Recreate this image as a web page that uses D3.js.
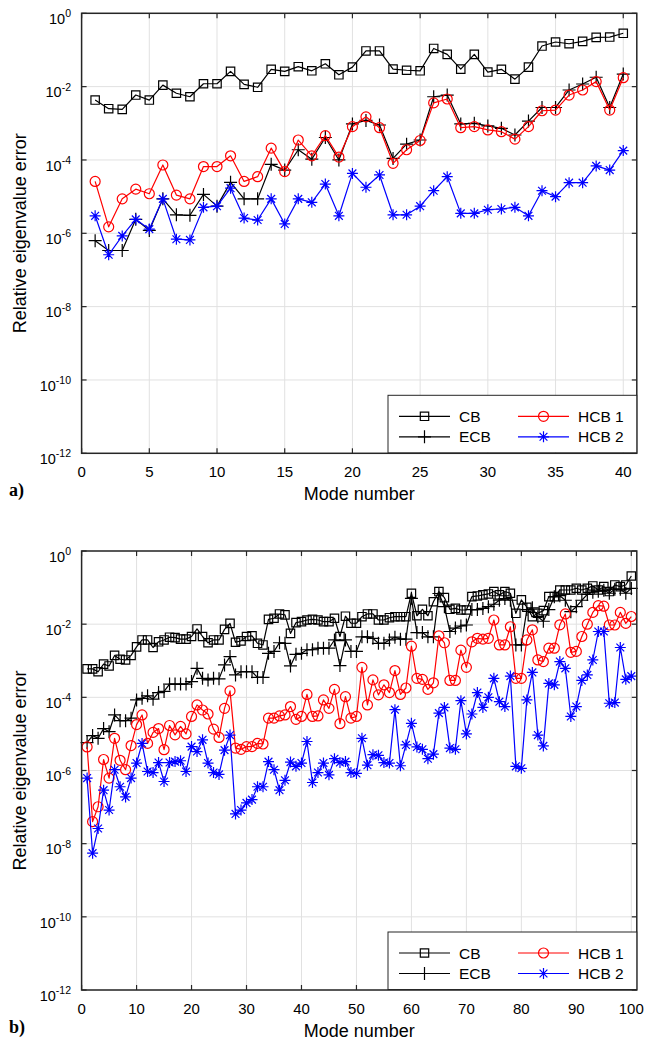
<!DOCTYPE html>
<html>
<head>
<meta charset="utf-8">
<script src="https://cdn.jsdelivr.net/npm/d3@7"></script>
<style>
  body { margin: 0; background: #fff; }
  svg { display: block; font-family: "Liberation Sans", Arial, Helvetica, sans-serif; }
</style>
</head>
<body>
<svg id="chart" width="646" height="1041"></svg>
<script>
// ---- panel a) : 40 modes ----
const modesA = d3.range(1, 41);
const cbA = [4.3e-3, 2.5e-3, 2.4e-3, 5.9e-3, 4.3e-3, 1.1e-2, 6.6e-3, 5.3e-3, 1.2e-2, 1.2e-2,
    2.6e-2, 1.15e-2, 9.6e-3, 2.97e-2, 2.6e-2, 3.5e-2, 2.7e-2, 4.2e-2, 2.1e-2, 3.4e-2,
    9.4e-2, 9.4e-2, 3.0e-2, 2.8e-2, 2.7e-2, 0.11, 7.6e-2, 3.0e-2, 7.6e-2, 2.5e-2,
    2.97e-2, 1.6e-2, 3.4e-2, 0.128, 0.165, 0.148, 0.172, 0.22, 0.225, 0.285];
const ecbA = [6.3e-7, 3.4e-7, 3.4e-7, 2.4e-6, 1.2e-6, 8.7e-6, 3.2e-6, 3.1e-6, 1.15e-5, 5.5e-6,
    2.45e-5, 8.7e-6, 8.7e-6, 7.6e-5, 5.3e-5, 1.9e-4, 1.05e-4, 4.1e-4, 1.0e-4, 9.6e-4,
    1.2e-3, 9.0e-4, 1.1e-4, 2.7e-4, 3.5e-4, 5.3e-3, 5.9e-3, 9.6e-4, 1.0e-3, 8.5e-4,
    7.3e-4, 4.8e-4, 1.15e-3, 2.7e-3, 2.7e-3, 8.1e-3, 1.18e-2, 1.8e-2, 2.7e-3, 2.2e-2];
const hcb1A = [2.6e-5, 1.5e-6, 8.7e-6, 1.6e-5, 1.2e-5, 7.3e-5, 1.1e-5, 8.7e-6, 6.6e-5, 6.6e-5,
    1.3e-4, 2.6e-5, 3.5e-5, 2.1e-4, 4.8e-5, 3.5e-4, 1.3e-4, 4.6e-4, 1.2e-4, 8.1e-4,
    1.5e-3, 7.6e-4, 8.1e-5, 1.9e-4, 3.4e-4, 3.6e-3, 4.6e-3, 7.6e-4, 8.1e-4, 6.6e-4,
    5.9e-4, 3.7e-4, 8.1e-4, 2.2e-3, 2.3e-3, 5.9e-3, 8.1e-3, 1.37e-2, 2.3e-3, 1.75e-2];
const hcb2A = [3.0e-6, 2.6e-7, 8.5e-7, 2.4e-6, 1.3e-6, 8.7e-6, 6.9e-7, 6.6e-7, 5.1e-6, 5.5e-6,
    1.7e-5, 2.6e-6, 2.3e-6, 8.7e-6, 1.8e-6, 8.7e-6, 7.0e-6, 2.2e-5, 3.0e-6, 4.3e-5,
    1.8e-5, 3.9e-5, 3.2e-6, 3.2e-6, 5.5e-6, 1.45e-5, 3.5e-5, 3.5e-6, 3.5e-6, 4.4e-6,
    4.6e-6, 5.1e-6, 3.0e-6, 1.45e-5, 1.0e-5, 2.4e-5, 2.4e-5, 6.9e-5, 5.3e-5, 1.8e-4];

// ---- panel b) : 100 modes ----
const modesB = d3.range(1, 101);
const cbB = [6.0e-4, 6.0e-4, 5.0e-4, 8.1e-4, 7.2e-4, 1.4e-3, 1.1e-3, 1.05e-3, 1.4e-3, 2.4e-3,
    3.7e-3, 3.7e-3, 2.3e-3, 3.3e-3, 3.7e-3, 4.4e-3, 4.3e-3, 3.9e-3, 3.9e-3, 4.6e-3,
    7.4e-3, 4.6e-3, 3.1e-3, 3.7e-3, 3.7e-3, 7.2e-3, 1.05e-2, 3.2e-3, 3.5e-3, 4.6e-3,
    4.8e-3, 3.0e-3, 2.7e-3, 1.35e-2, 1.45e-2, 1.9e-2, 1.8e-2, 5.6e-3, 1.1e-2, 1.17e-2,
    1.3e-2, 1.35e-2, 1.3e-2, 1.17e-2, 1.17e-2, 1.45e-2, 4.6e-3, 1.65e-2, 1.06e-2, 1.06e-2,
    1.6e-2, 1.9e-2, 1.9e-2, 1.3e-2, 1.3e-2, 1.5e-2, 1.6e-2, 1.6e-2, 1.6e-2, 7.0e-2,
    1.7e-2, 2.55e-2, 1.7e-2, 4.1e-2, 7.8e-2, 5.3e-2, 2.55e-2, 2.7e-2, 2.44e-2, 2.44e-2,
    5.65e-2, 5.9e-2, 6.3e-2, 6.7e-2, 7.8e-2, 6.3e-2, 7.8e-2, 7.0e-2, 1.98e-2, 4.6e-2,
    2.9e-2, 1.6e-2, 1.98e-2, 2.34e-2, 5.65e-2, 5.65e-2, 8.6e-2, 8.6e-2, 8.6e-2, 9.6e-2,
    8.6e-2, 9.6e-2, 0.111, 8.6e-2, 0.106, 7.8e-2, 0.118, 0.106, 0.118, 0.207];
const ecbB = [5.8e-6, 9.0e-6, 7.6e-6, 1.4e-5, 1.15e-5, 3.3e-5, 2.3e-5, 2.3e-5, 2.7e-5, 8.5e-5,
    9.4e-5, 1.1e-4, 8.9e-5, 1.35e-4, 1.45e-4, 2.3e-4, 2.3e-4, 2.3e-4, 2.3e-4, 2.7e-4,
    6.2e-4, 3.3e-4, 3.0e-4, 3.3e-4, 3.2e-4, 7.7e-4, 1.3e-3, 4.1e-4, 5.0e-4, 5.0e-4,
    5.0e-4, 3.5e-4, 3.5e-4, 1.6e-3, 1.8e-3, 3.1e-3, 3.0e-3, 7.2e-4, 1.5e-3, 1.6e-3,
    2.0e-3, 2.0e-3, 2.2e-3, 2.2e-3, 2.2e-3, 3.7e-3, 7.4e-4, 3.7e-3, 1.8e-3, 1.8e-3,
    4.5e-3, 4.5e-3, 4.1e-3, 3.0e-3, 3.0e-3, 3.7e-3, 4.4e-3, 3.9e-3, 3.9e-3, 5.1e-2,
    5.9e-3, 5.9e-3, 4.5e-3, 4.5e-3, 6.9e-2, 3.0e-2, 6.3e-3, 7.8e-3, 8.9e-3, 9.5e-3,
    2.5e-2, 2.5e-2, 2.7e-2, 3.0e-2, 3.5e-2, 4.5e-2, 5.0e-2, 4.5e-2, 2.7e-3, 2.7e-3,
    2.5e-2, 2.8e-2, 1.6e-2, 1.2e-2, 2.5e-2, 5.6e-2, 6.0e-2, 4.5e-2, 2.2e-2, 3.0e-2,
    4.5e-2, 6.5e-2, 7.5e-2, 8.0e-2, 8.5e-2, 7.0e-2, 9.0e-2, 9.0e-2, 7.0e-2, 9.5e-2];
const hcb1B = [4.4e-6, 4.0e-8, 1.02e-7, 2.0e-6, 6.2e-7, 7.6e-6, 1.9e-6, 1.05e-6, 4.8e-6, 1.8e-5,
    3.3e-5, 5.5e-6, 1.1e-5, 1.4e-5, 3.7e-6, 1.7e-5, 9.4e-6, 1.6e-5, 1.0e-5, 3.0e-5,
    6.2e-5, 4.5e-5, 3.5e-5, 1.35e-5, 8.0e-6, 5.0e-5, 1.5e-4, 4.1e-6, 3.8e-6, 4.5e-6,
    4.5e-6, 5.5e-6, 5.3e-6, 2.7e-5, 2.7e-5, 3.1e-5, 3.3e-5, 5.6e-5, 2.5e-5, 3.0e-5,
    1.2e-4, 3.0e-5, 3.1e-5, 8.5e-5, 5.0e-5, 1.65e-4, 1.9e-5, 1.04e-4, 2.7e-5, 3.0e-5,
    6.6e-4, 6.2e-5, 3.0e-4, 1.17e-4, 2.2e-4, 1.35e-4, 5.4e-4, 1.2e-4, 1.8e-4, 2.5e-3,
    3.3e-4, 3.1e-4, 1.65e-4, 2.5e-4, 4.8e-3, 3.1e-3, 2.9e-4, 2.9e-4, 1.95e-3, 6.6e-4,
    3.3e-3, 4.1e-3, 3.9e-3, 4.1e-3, 1.3e-2, 2.7e-3, 2.7e-3, 8.5e-3, 3.3e-4, 3.3e-4,
    3.7e-3, 7.0e-3, 1.05e-3, 9.5e-4, 2.2e-3, 2.2e-3, 9.6e-3, 1.9e-2, 1.7e-3, 1.8e-3,
    4.6e-3, 1.0e-2, 2.1e-2, 3.2e-2, 3.1e-2, 9.5e-3, 9.5e-3, 2.1e-2, 1.05e-2, 1.62e-2];
const hcb2B = [6.2e-7, 5.5e-9, 2.6e-8, 2.9e-7, 8.3e-8, 1.05e-6, 3.6e-7, 1.9e-7, 6.2e-7, 1.6e-6,
    5.5e-6, 9.4e-7, 8.8e-7, 1.65e-6, 5.0e-7, 1.65e-6, 1.75e-6, 1.85e-6, 9.4e-7, 4.5e-6,
    3.3e-6, 6.9e-6, 1.6e-6, 8.8e-7, 7.8e-7, 3.6e-6, 9.3e-6, 6.5e-8, 8.3e-8, 1.3e-7,
    1.6e-7, 3.6e-7, 3.6e-7, 1.75e-6, 1.05e-6, 2.9e-7, 5.4e-7, 1.7e-6, 1.3e-6, 1.6e-6,
    6.2e-6, 4.7e-7, 8.8e-7, 1.6e-6, 7.6e-7, 2.1e-6, 1.65e-6, 1.75e-6, 8.8e-7, 8.3e-7,
    7.6e-6, 1.4e-6, 2.7e-6, 2.6e-6, 1.65e-6, 1.6e-6, 4.6e-5, 1.35e-6, 5.0e-6, 1.95e-5,
    4.4e-6, 3.8e-6, 2.1e-6, 2.8e-6, 3.7e-5, 5.3e-5, 4.1e-6, 3.8e-6, 8.1e-5, 1.0e-5,
    3.5e-5, 1.35e-4, 5.3e-5, 1.0e-4, 3.3e-4, 7.6e-5, 5.6e-5, 3.8e-4, 1.3e-6, 1.15e-6,
    8.5e-5, 4.8e-4, 9.3e-6, 4.7e-6, 2.4e-4, 2.2e-4, 9.5e-4, 6.2e-4, 3.0e-5, 5.6e-5,
    2.9e-4, 4.1e-4, 1.05e-3, 6.3e-3, 6.3e-3, 6.9e-5, 7.2e-5, 2.3e-3, 3.1e-4, 3.8e-4];

const seriesNames = ['CB', 'ECB', 'HCB 1', 'HCB 2'];
const yTickExps = [0, -2, -4, -6, -8, -10, -12];
const xTicksA = d3.range(0, 41, 5);
const xTicksB = d3.range(0, 101, 10);

const STYLE = {
    'CB': { color: '#000', marker: 'square' },
    'ECB': { color: '#000', marker: 'plus' },
    'HCB 1': { color: '#ff0000', marker: 'circle' },
    'HCB 2': { color: '#0000ff', marker: 'star' }
};
const MARKER_PATH = {
    square: 'M-4.2,-4.2h8.4v8.4h-8.4z',
    plus: 'M-6.5,0h13M0,-6.5v13',
    star: 'M-5.5,0h11M0,-5.5v11M-3.9,-3.9L3.9,3.9M-3.9,3.9L3.9,-3.9'
};
const AXIS_COLOR = '#262626';
const GRID_COLOR = '#e1e1e1';

const svg = d3.select('#chart');

function drawMarker(sel, marker, color) {
    if (marker === 'circle') {
        sel.append('circle').attr('r', 5).attr('fill', 'none').attr('stroke', color).attr('stroke-width', 1.2);
    } else {
        sel.append('path').attr('d', MARKER_PATH[marker]).attr('fill', 'none')
            .attr('stroke', color).attr('stroke-width', 1.2);
    }
}

function drawPanel(opt) {
    const x = d3.scaleLinear().domain([0, opt.xMax]).range([81.6, 636.8]);
    const y = d3.scaleLog().domain([1e-12, 1]).range([opt.bottom, opt.top]);
    const g = svg.append('g');

    // grid
    g.selectAll('.gx').data(opt.xTicks).enter().append('line')
        .attr('x1', d => x(d)).attr('x2', d => x(d))
        .attr('y1', opt.top).attr('y2', opt.bottom)
        .attr('stroke', GRID_COLOR).attr('stroke-width', 1);
    g.selectAll('.gy').data(yTickExps).enter().append('line')
        .attr('x1', x(0)).attr('x2', x(opt.xMax))
        .attr('y1', d => y(Math.pow(10, d))).attr('y2', d => y(Math.pow(10, d)))
        .attr('stroke', GRID_COLOR).attr('stroke-width', 1);

    // data series
    const line = d3.line().x(d => x(d.mode)).y(d => y(d.value));
    opt.series.forEach((vals, i) => {
        const name = seriesNames[i];
        const st = STYLE[name];
        const pts = opt.modes.map((m, k) => ({ mode: m, value: vals[k] }));
        g.append('path').datum(pts).attr('d', line)
            .attr('fill', 'none').attr('stroke', st.color).attr('stroke-width', 1.2)
            .attr('stroke-linejoin', 'round');
        const mk = g.append('g').selectAll('g').data(pts).enter().append('g')
            .attr('transform', d => `translate(${x(d.mode)},${y(d.value)})`);
        drawMarker(mk, st.marker, st.color);
    });

    // box and ticks
    const x0 = x(0), x1 = x(opt.xMax);
    g.append('rect').attr('x', x0).attr('y', opt.top).attr('width', x1 - x0).attr('height', opt.bottom - opt.top)
        .attr('fill', 'none').attr('stroke', AXIS_COLOR).attr('stroke-width', 1.5);
    const tl = 5;
    opt.xTicks.forEach(t => {
        g.append('line').attr('x1', x(t)).attr('x2', x(t)).attr('y1', opt.bottom).attr('y2', opt.bottom - tl)
            .attr('stroke', AXIS_COLOR).attr('stroke-width', 1.2);
        g.append('line').attr('x1', x(t)).attr('x2', x(t)).attr('y1', opt.top).attr('y2', opt.top + tl)
            .attr('stroke', AXIS_COLOR).attr('stroke-width', 1.2);
        g.append('text').attr('x', x(t)).attr('y', opt.bottom + 24).attr('text-anchor', 'middle')
            .attr('font-size', 15).attr('fill', '#000').text(t);
    });
    yTickExps.forEach(e => {
        const yy = y(Math.pow(10, e));
        g.append('line').attr('x1', x0).attr('x2', x0 + tl).attr('y1', yy).attr('y2', yy)
            .attr('stroke', AXIS_COLOR).attr('stroke-width', 1.2);
        g.append('line').attr('x1', x1).attr('x2', x1 - tl).attr('y1', yy).attr('y2', yy)
            .attr('stroke', AXIS_COLOR).attr('stroke-width', 1.2);
        const t = g.append('text').attr('x', 71).attr('y', yy + 10.8).attr('text-anchor', 'end')
            .attr('fill', '#000');
        t.append('tspan').attr('font-size', 14.5).text('10');
        t.append('tspan').attr('font-size', 10.5).attr('dy', -6.8).text(e === 0 ? '0' : '-' + (-e));
    });

    // axis labels
    g.append('text').attr('x', (x0 + x1) / 2).attr('y', opt.bottom + 47).attr('text-anchor', 'middle')
        .attr('font-size', 18).text('Mode number');
    g.append('text').attr('transform', `translate(26,${(opt.top + opt.bottom) / 2}) rotate(-90)`)
        .attr('text-anchor', 'middle').attr('font-size', 18).text('Relative eigenvalue error');
    g.append('text').attr('x', 9).attr('y', opt.bottom + 43)
        .attr('font-family', '"Liberation Serif", "Times New Roman", serif').attr('font-weight', 'bold')
        .attr('font-size', 18).text(opt.tag);

    // legend
    const lg = g.append('g').attr('transform', `translate(388,${opt.bottom - 58})`);
    lg.append('rect').attr('width', 248.8).attr('height', 57.5)
        .attr('fill', '#fff').attr('stroke', AXIS_COLOR).attr('stroke-width', 1);
    const slots = [[0, 0], [0, 1], [1, 0], [1, 1]];
    seriesNames.forEach((name, i) => {
        const [col, row] = slots[i];
        const lx = col === 0 ? 11 : 130;
        const ly = row === 0 ? 21 : 41.5;
        const st = STYLE[name];
        lg.append('line').attr('x1', lx).attr('x2', lx + 51).attr('y1', ly).attr('y2', ly)
            .attr('stroke', st.color).attr('stroke-width', 1.2);
        drawMarker(lg.append('g').attr('transform', `translate(${lx + 25.5},${ly})`), st.marker, st.color);
        lg.append('text').attr('x', lx + 60).attr('y', ly + 5.5).attr('font-size', 15.5).text(name);
    });
}

drawPanel({ tag: 'a)', top: 13.3, bottom: 453.3, xMax: 41, xTicks: xTicksA, modes: modesA,
    series: [cbA, ecbA, hcb1A, hcb2A] });
drawPanel({ tag: 'b)', top: 551, bottom: 990, xMax: 101, xTicks: xTicksB, modes: modesB,
    series: [cbB, ecbB, hcb1B, hcb2B] });
</script>
</body>
</html>
